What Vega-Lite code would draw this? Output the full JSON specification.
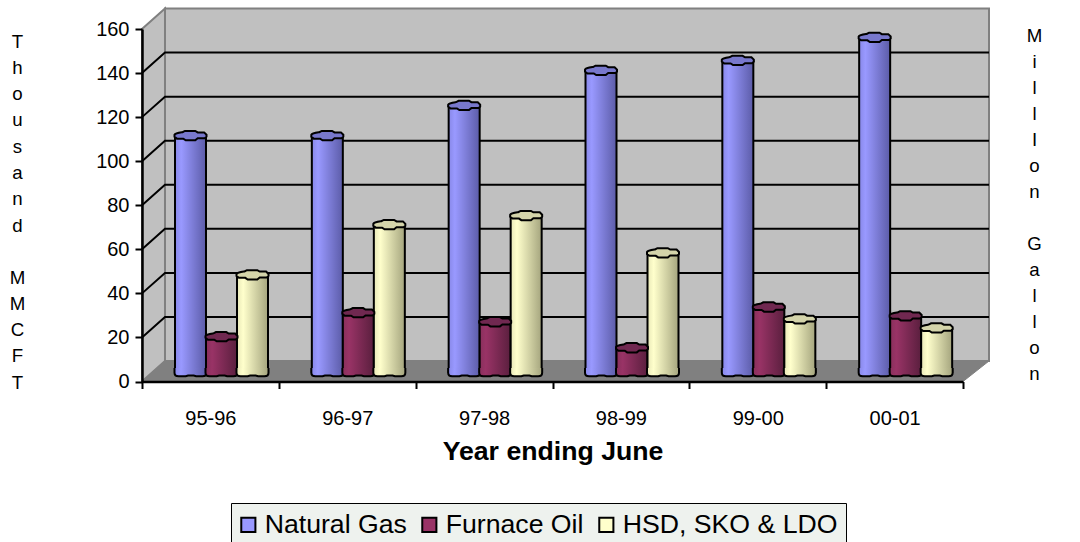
{
"$schema":"https://vega.github.io/schema/vega-lite/v6.json",
"width":1080,"height":542,"padding":0,"autosize":"none","background":"white",
"config":{"view":{"stroke":null},"font":"Liberation Sans"},
"datasets":{
"bars":[
{"year":"95-96","series":"Natural Gas","value":106.8},{"year":"95-96","series":"Furnace Oil","value":15.5},{"year":"95-96","series":"HSD, SKO & LDO","value":43.6},
{"year":"96-97","series":"Natural Gas","value":106.8},{"year":"96-97","series":"Furnace Oil","value":26.4},{"year":"96-97","series":"HSD, SKO & LDO","value":66.4},
{"year":"97-98","series":"Natural Gas","value":120.5},{"year":"97-98","series":"Furnace Oil","value":22.3},{"year":"97-98","series":"HSD, SKO & LDO","value":70.5},
{"year":"98-99","series":"Natural Gas","value":136.4},{"year":"98-99","series":"Furnace Oil","value":10.5},{"year":"98-99","series":"HSD, SKO & LDO","value":53.6},
{"year":"99-00","series":"Natural Gas","value":140.9},{"year":"99-00","series":"Furnace Oil","value":29},{"year":"99-00","series":"HSD, SKO & LDO","value":23.6},
{"year":"00-01","series":"Natural Gas","value":151.4},{"year":"00-01","series":"Furnace Oil","value":25},{"year":"00-01","series":"HSD, SKO & LDO","value":19.5}
],
"grid":[
{"g":20,"p":1,"u":0,"v":20},{"g":20,"p":2,"u":0.168,"v":29.3},{"g":20,"p":3,"u":6.19,"v":29.3},
{"g":40,"p":1,"u":0,"v":40},{"g":40,"p":2,"u":0.168,"v":49.3},{"g":40,"p":3,"u":6.19,"v":49.3},
{"g":60,"p":1,"u":0,"v":60},{"g":60,"p":2,"u":0.168,"v":69.3},{"g":60,"p":3,"u":6.19,"v":69.3},
{"g":80,"p":1,"u":0,"v":80},{"g":80,"p":2,"u":0.168,"v":89.3},{"g":80,"p":3,"u":6.19,"v":89.3},
{"g":100,"p":1,"u":0,"v":100},{"g":100,"p":2,"u":0.168,"v":109.3},{"g":100,"p":3,"u":6.19,"v":109.3},
{"g":120,"p":1,"u":0,"v":120},{"g":120,"p":2,"u":0.168,"v":129.3},{"g":120,"p":3,"u":6.19,"v":129.3},
{"g":140,"p":1,"u":0,"v":140},{"g":140,"p":2,"u":0.168,"v":149.3},{"g":140,"p":3,"u":6.19,"v":149.3}
]
},
"layer":[
{
"data":{"name":"grid"},
"encoding":{"x":{"type":"quantitative","scale":{"domain":[0,6],"range":[142,963],"nice":false,"zero":false},"axis":null},
"y":{"type":"quantitative","scale":{"domain":[0,160],"range":[381.5,29],"nice":false},"axis":null}},
"layer":[
{"data":{"values":[{"a":0.168,"b":6.19,"c":9.3,"d":169.3}]},
"mark":{"type":"rect","fill":"#c0c0c0","stroke":"#808080","strokeWidth":2},
"encoding":{"x":{"field":"a","type":"quantitative"},"x2":{"field":"b"},"y":{"field":"c","type":"quantitative"},"y2":{"field":"d"}}},
{"data":{"values":[{"a":0,"c":0,"d":160},{"a":0.168,"c":9.3,"d":169.3}]},
"mark":{"type":"area","fill":"#c0c0c0","stroke":"#808080","strokeWidth":2,"orient":"vertical"},
"encoding":{"x":{"field":"a","type":"quantitative"},"y":{"field":"c","type":"quantitative"},"y2":{"field":"d"}}},
{"data":{"values":[{"c":0,"a":0,"b":6},{"c":9.3,"a":0.168,"b":6.19}]},
"mark":{"type":"area","fill":"#808080","stroke":"#808080","strokeWidth":1,"orient":"horizontal"},
"encoding":{"y":{"field":"c","type":"quantitative"},"x":{"field":"a","type":"quantitative"},"x2":{"field":"b"}}},
{"mark":{"type":"line","stroke":"black","strokeWidth":2},
"encoding":{"x":{"field":"u","type":"quantitative"},"y":{"field":"v","type":"quantitative"},"detail":{"field":"g"},"order":{"field":"p"}}}
]
},
{
"data":{"name":"bars"},
"encoding":{
"x":{"field":"year","type":"nominal","sort":null,"scale":{"domain":["95-96","96-97","97-98","98-99","99-00","00-01"],"range":[142,963],"paddingInner":0,"paddingOuter":0},
"axis":{"title":"Year ending June","titleFontSize":26.67,"titleFontWeight":"bold","titleColor":"black","titlePadding":10,"labelAngle":0,"labelFontSize":20,"labelColor":"black","labelPadding":20,"tickBand":"extent","tickColor":"black","tickWidth":2,"tickSize":7,"domainColor":"black","domainWidth":2.5,"offset":-160.5,"grid":false,"zindex":1}},
"xOffset":{"field":"series","type":"nominal","sort":null,"scale":{"domain":["Natural Gas","Furnace Oil","HSD, SKO & LDO"],"range":[33,126]}},
"y":{"field":"value","type":"quantitative","scale":{"domain":[0,160],"range":[381.5,29],"nice":false},
"axis":{"title":["T","h","o","u","s","a","n","d"],"titleAngle":0,"titleAlign":"center","titleBaseline":"middle","titleFontSize":18.67,"titleFontWeight":"normal","titleColor":"black","titleLineHeight":26.3,"titleX":-125,"titleY":41,"values":[0,20,40,60,80,100,120,140,160],"labelFontSize":20,"labelColor":"black","labelPadding":6,"tickColor":"black","tickWidth":2,"tickSize":7,"domainColor":"black","domainWidth":2.5,"offset":-142,"grid":false,"zindex":1}}
},
"layer":[
{"mark":{"type":"bar","yOffset":-9.5,"y2Offset":-9.5},
"encoding":{"y2":{"datum":0},"fill":{"field":"series","type":"nominal","sort":null,"scale":{"domain":["Natural Gas","Furnace Oil","HSD, SKO & LDO"],"range":["#9999ff","#993366","#ffffcc"]},
"legend":{"title":null,"orient":"none","legendX":231,"legendY":503,"direction":"horizontal","columns":3,"fillColor":"#eef2ee","strokeColor":"black","padding":8,"symbolType":"square","symbolSize":200,"symbolStrokeColor":"black","symbolStrokeWidth":2,"symbolOpacity":1,"symbolOffset":-4,"labelFontSize":26.67,"labelColor":"black","labelFont":"Liberation Sans","labelOffset":3,"columnPadding":11,"labelLimit":300}}}},
{"mark":{"type":"bar","yOffset":-9.5,"y2Offset":-9.5,"stroke":"black","strokeWidth":2},
"encoding":{"y2":{"datum":0},"fill":{"condition":[
{"test":"datum.series=='Natural Gas'","value":{"gradient":"linear","x1":0,"x2":1,"y1":0,"y2":0,"stops":[{"offset":0,"color":"#8888e8"},{"offset":0.2,"color":"#9999ff"},{"offset":1,"color":"#5c5ca8"}]}},
{"test":"datum.series=='Furnace Oil'","value":{"gradient":"linear","x1":0,"x2":1,"y1":0,"y2":0,"stops":[{"offset":0,"color":"#88305c"},{"offset":0.2,"color":"#993366"},{"offset":1,"color":"#5a1f3e"}]}}
],"value":{"gradient":"linear","x1":0,"x2":1,"y1":0,"y2":0,"stops":[{"offset":0,"color":"#e8e8b8"},{"offset":0.2,"color":"#ffffcc"},{"offset":1,"color":"#a5a57e"}]}}}},
{"mark":{"type":"point","filled":true,"size":1024,"strokeWidth":2,"stroke":"black","yOffset":-9.5,"opacity":1,
"shape":"M-1,-0.25 L-1,0.05 C-1,0.2 -0.9,0.27 -0.75,0.27 L-0.3,0.27 L-0.15,0.22 L0.2,0.22 L0.35,0.27 L0.75,0.27 C0.9,0.27 1,0.2 1,0.05 L1,-0.25"},
"encoding":{"y":{"datum":0},"fill":{"condition":[
{"test":"datum.series=='Natural Gas'","value":{"gradient":"linear","x1":0,"x2":1,"y1":0,"y2":0,"stops":[{"offset":0,"color":"#8888e8"},{"offset":0.2,"color":"#9999ff"},{"offset":1,"color":"#5c5ca8"}]}},
{"test":"datum.series=='Furnace Oil'","value":{"gradient":"linear","x1":0,"x2":1,"y1":0,"y2":0,"stops":[{"offset":0,"color":"#88305c"},{"offset":0.2,"color":"#993366"},{"offset":1,"color":"#5a1f3e"}]}}
],"value":{"gradient":"linear","x1":0,"x2":1,"y1":0,"y2":0,"stops":[{"offset":0,"color":"#e8e8b8"},{"offset":0.2,"color":"#ffffcc"},{"offset":1,"color":"#a5a57e"}]}}}},
{"mark":{"type":"point","filled":true,"size":1024,"strokeWidth":2,"stroke":"black","yOffset":-9.5,"opacity":1,
"shape":"M-1,-0.12 C-0.95,-0.22 -0.7,-0.25 -0.5,-0.28 L-0.35,-0.36 L0.3,-0.36 L0.45,-0.27 L0.85,-0.27 L1,-0.12 L1,0 L0.9,0.1 L0.45,0.1 L0.3,0.22 L-0.3,0.22 L-0.45,0.12 L-0.85,0.12 L-1,0 Z"},
"encoding":{"fill":{"field":"series","type":"nominal","sort":null,"legend":null,"scale":{"domain":["Natural Gas","Furnace Oil","HSD, SKO & LDO"],"range":["#7878cc","#702850","#d4d4aa"]}}}}
],
"resolve":{"scale":{"fill":"independent"}}
},
{
"data":{"values":[{"m":0}]},
"mark":{"type":"point","opacity":0},
"encoding":{
"y":{"field":"m","type":"quantitative","scale":{"domain":[0,160],"range":[381.5,29],"nice":false},
"axis":{"orient":"left","labels":false,"ticks":false,"domain":false,"grid":false,"title":["M","M","C","F","T"],"titleAngle":0,"titleAlign":"center","titleBaseline":"middle","titleFontSize":18.67,"titleFontWeight":"normal","titleColor":"black","titleLineHeight":26.3,"titleX":17,"titleY":277}}}
},
{
"data":{"values":[{"m":0}]},
"mark":{"type":"point","opacity":0},
"encoding":{
"y":{"field":"m","type":"quantitative","scale":{"domain":[0,160],"range":[381.5,29],"nice":false},
"axis":{"orient":"right","labels":false,"ticks":false,"domain":false,"grid":false,"title":["M","i","l","l","I","o","n"],"titleAngle":0,"titleAlign":"center","titleBaseline":"middle","titleFontSize":18.67,"titleFontWeight":"normal","titleColor":"black","titleLineHeight":26.1,"titleX":-46,"titleY":35}}}
},
{
"data":{"values":[{"m":0}]},
"mark":{"type":"point","opacity":0},
"encoding":{
"y":{"field":"m","type":"quantitative","scale":{"domain":[0,160],"range":[381.5,29],"nice":false},
"axis":{"orient":"right","labels":false,"ticks":false,"domain":false,"grid":false,"title":["G","a","l","l","o","n"],"titleAngle":0,"titleAlign":"center","titleBaseline":"middle","titleFontSize":18.67,"titleFontWeight":"normal","titleColor":"black","titleLineHeight":26.1,"titleX":-46,"titleY":243}}}
}
],
"resolve":{"scale":{"x":"independent","y":"shared"},"axis":{"x":"independent","y":"independent"}}
}
